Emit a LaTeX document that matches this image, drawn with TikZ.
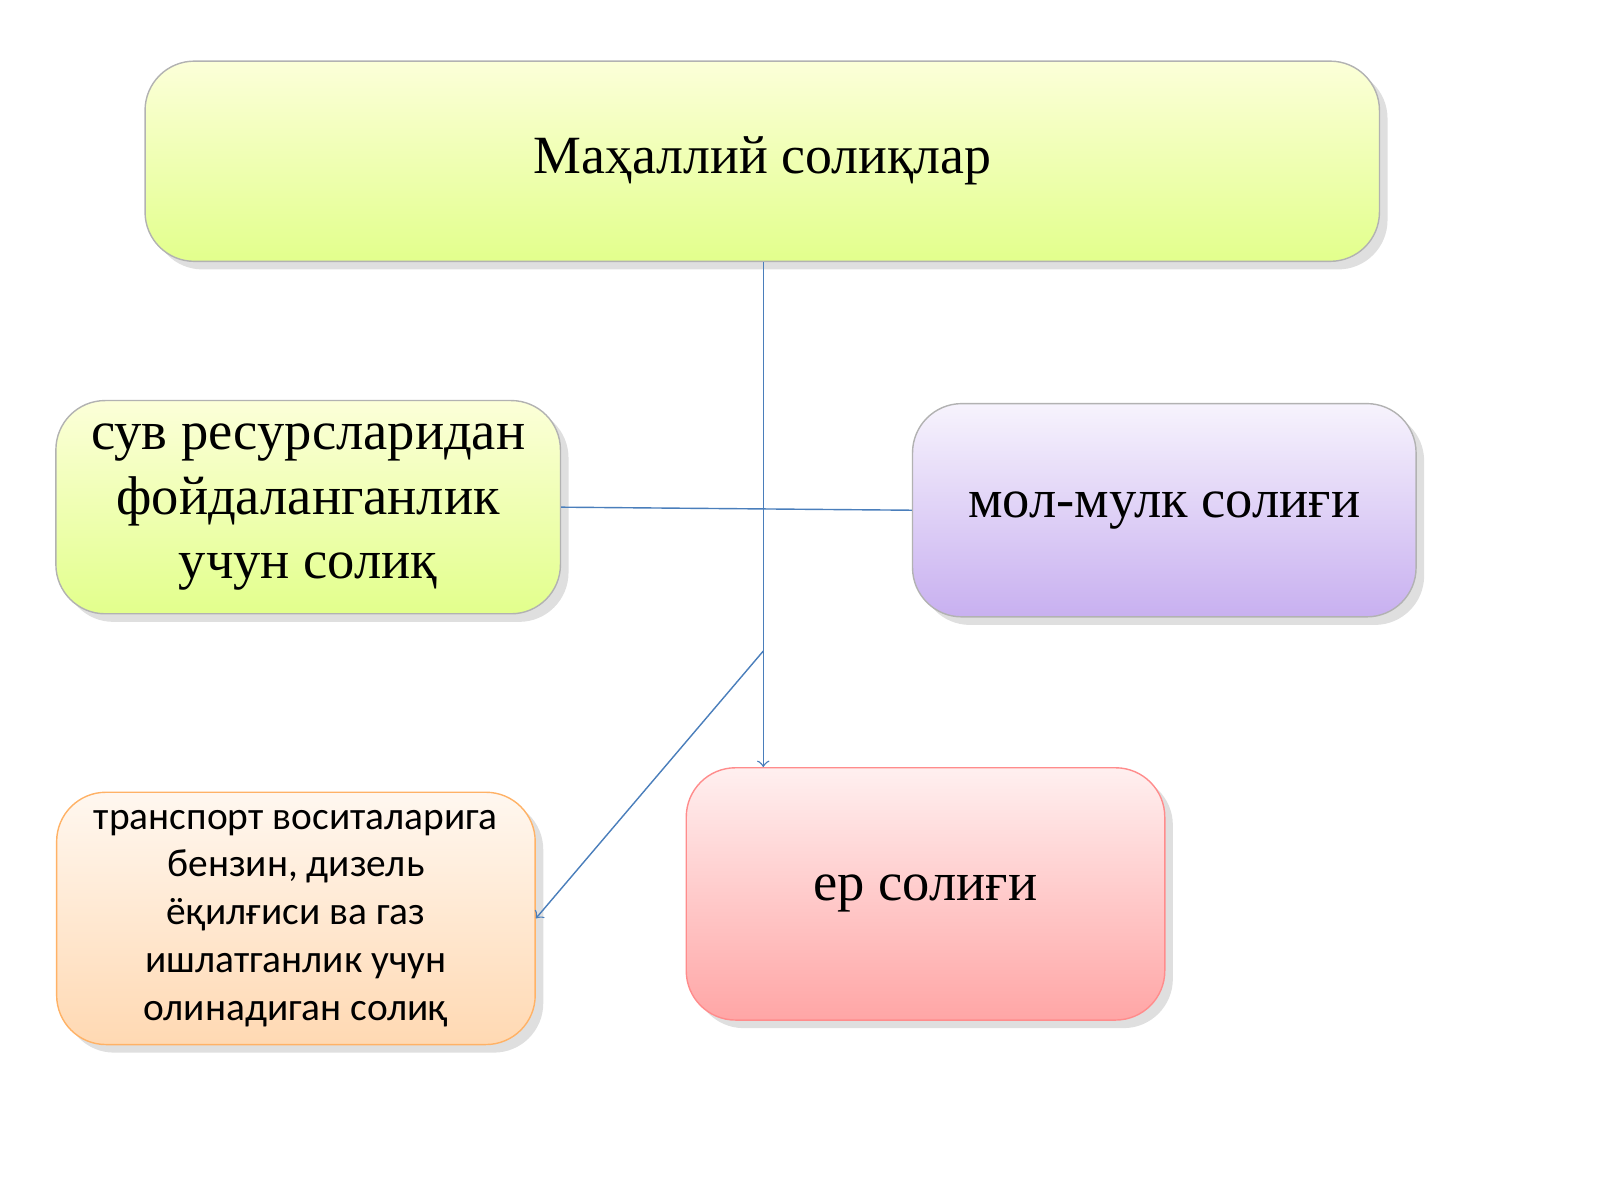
\documentclass[tikz,border=0pt]{standalone}
\usepackage{fontspec}
\setmainfont{Liberation Serif}
\newfontfamily\boxsans{Carlito}
\usetikzlibrary{shadows}
\definecolor{linkblue}{RGB}{74,126,187}
\definecolor{lilac}{RGB}{200,176,240}

\begin{document}
\begin{tikzpicture}[x=0.0102cm,y=-0.0102cm]
\tikzstyle{taxbox}=[draw=gray!60,rounded corners=14pt,drop shadow={opacity=0.25},align=center,inner sep=0pt]
\tikzstyle{link}=[draw=linkblue,thin]
\useasboundingbox (0,0) rectangle (1568,1176);
% boxes
\node [taxbox,top color=green!8!yellow!15,bottom color=green!25!yellow!45,minimum width=12.33cm,minimum height=2.0cm,font=\fontsize{15.3}{19}\selectfont] (top) at (747,158) {Маҳаллий солиқлар};
\node [taxbox,top color=green!8!yellow!15,bottom color=green!25!yellow!45,minimum width=5.04cm,minimum height=2.13cm,font=\fontsize{15.5}{18.3}\selectfont] (water) at (302,497) {сув ресурсларидан\\фойдаланганлик\\учун солиқ};
\node [taxbox,top color=lilac!15,bottom color=lilac,minimum width=5.03cm,minimum height=2.13cm,font=\fontsize{15.5}{19}\selectfont] (prop) at (1141,500) {мол-мулк солиғи};
\node [taxbox,draw=orange!60,top color=orange!6,bottom color=orange!30,minimum width=4.78cm,minimum height=2.52cm,font=\boxsans\fontsize{11.2}{13.6}\selectfont] (fuel) at (290,900) {транспорт воситаларига\\бензин, дизель\\ёқилғиси ва газ\\ишлатганлик учун\\олинадиган солиқ};
\node [taxbox,draw=red!45,top color=red!6,bottom color=red!35,minimum width=4.78cm,minimum height=2.52cm,font=\fontsize{15.5}{19}\selectfont] (land) at (907,876) {ер солиғи};
% connectors
\coordinate (split) at (748,638);
\draw [link,->] (top.south -| split) -- (land.north -| split);
\draw [link] (water.east) -- (prop.west);
\draw [link,->] (split) -- (fuel.east);
\end{tikzpicture}
\end{document}
